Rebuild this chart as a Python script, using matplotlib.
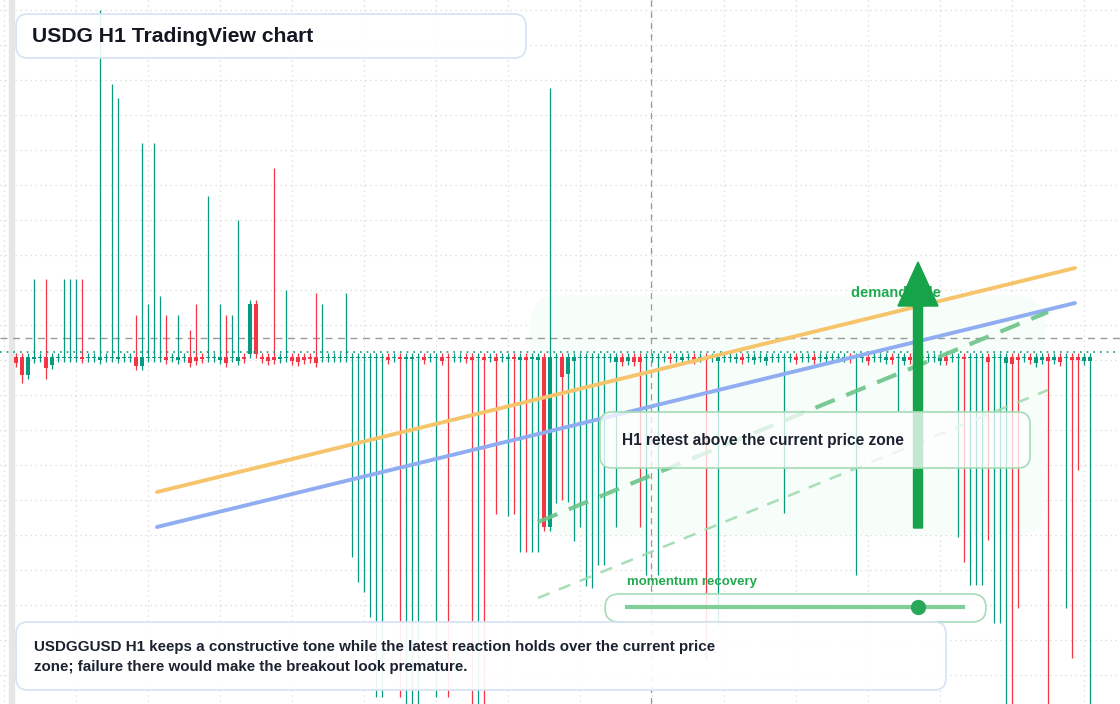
import numpy as np
import matplotlib.pyplot as plt
from matplotlib.patches import FancyBboxPatch, FancyArrow

plt.rcParams['font.family'] = ['Liberation Sans', 'DejaVu Sans']

# candle bodies in pips relative to 1.0000 (close - open), red when negative
body_pips = [
    -6, -18, 18, 2, 0, -11, 8, 0, 1, 0, 0, -2, 0, 0, 3, 0, 0, 2, 0, 0,
    -9, 9, 0, 1, 0, -3, 0, 3, 0, -6, -4, -2, 0, 0, 3, -6, 0, 4, -2, 50,
    -50, -2, -4, -3, 2, 0, -4, -5, -3, -2, -6, 0, 0, 0, 0, 0, 0, 0, 0, 0,
    0, 0, -3, 0, -2, 2, 2, 0, -3, 0, 0, -4, -1, 0, 0, -2, -3, 0, -3, 0,
    -4, 0, 2, -2, 3, -3, 2, 3, -170, 170, 0, -20, 17, 4, 0, 0, 0, 0, 0, 0,
    5, -5, 4, -5, -5, 0, 0, 0, 0, -2, 0, 3, 0, -3, 0, -3, 0, 4, 0, 0,
    2, -3, 0, 3, 0, 4, 0, 0, 0, 0, -3, 0, 0, -3, 0, 2, 0, 0, 0, -2,
    0, 0, -4, 0, 0, 3, -3, 0, 4, -3, 0, 0, 0, 0, 4, -4, 0, 0, -2, 0,
    0, 0, -5, 0, 0, 6, -7, -3, 0, -3, 6, 3, -4, 3, -5, 0, -3, -3, 4, 4,
]
tall_top_idx = [39, 40]
tall_top_pips = [53, 53]

spike_high_idx = [3, 5, 8, 9, 10, 11, 14, 16, 17, 20, 21, 22, 23, 24, 25, 27, 29, 30,
                  32, 34, 35, 36, 37, 43, 45, 50, 51, 55, 89]
spike_high_pips = [78, 78, 78, 78, 78, 78, 347, 273, 259, 42, 214, 53, 214, 61, 42, 42, 27, 53,
                   161, 53, 42, 42, 137, 189, 67, 64, 53, 64, 269]
spike_low_idx = [1, 5, 56, 57, 58, 59, 60, 61, 64, 65, 66, 67, 70, 72, 76, 77, 78, 80, 82, 83,
                 84, 85, 86, 87, 90, 91, 92, 93, 94, 95, 96, 97, 98, 100, 104, 105, 107, 115,
                 117, 128, 140, 147, 157, 158, 159, 160, 161, 162, 163, 164, 165, 166, 167,
                 172, 175, 176, 177, 179]
spike_low_pips = [-26, -22, -200, -225, -235, -260, -340, -340, -340, -347, -347, -347, -340, -340,
                  -347, -347, -347, -157, -159, -157, -195, -195, -195, -195, -146, -143, -145,
                  -184, -170, -229, -231, -208, -208, -170, -170, -218, -218, -303, -268, -156,
                  -218, -55, -180, -205, -228, -228, -228, -183, -266, -266, -347, -347, -251,
                  -347, -251, -301, -113, -347]

n = len(body_pips)
body = np.array(body_pips, dtype=float)
top = np.zeros(n)
top[tall_top_idx] = tall_top_pips
bottom = top - np.maximum(np.abs(body), 1.2)
high = top + 4
low = bottom - 4
high[spike_high_idx] = spike_high_pips
low[spike_low_idx] = spike_low_pips
colors = np.where(body >= 0, '#089981', '#F23645')
idx = np.arange(n)

fig = plt.figure(figsize=(11.2, 7.04), dpi=100)
ax = fig.add_axes([0, 0, 1, 1])
ax.set_xlim(-16 / 6, (1120 - 16) / 6)
ax.set_ylim(-347, 357)
ax.axis('off')

# overlay in pixel space for drawings and labels
ov = fig.add_axes([0, 0, 1, 1], zorder=5)
ov.patch.set_alpha(0)
ov.set_xlim(0, 1120)
ov.set_ylim(704, 0)
ov.axis('off')
px = ov.transData

# background pieces go on the candle axes, under the candles
grid_c = '#d8d8d8'
for gx in np.arange(4, 1120, 72):
    ax.plot([gx, gx], [0, 704], color=grid_c, ls=(0, (1, 3)), lw=0.9, transform=px, zorder=0)
for gy in np.arange(10, 704, 35):
    ax.plot([0, 1120], [gy, gy], color=grid_c, ls=(0, (1, 3)), lw=0.9, transform=px, zorder=0)
ax.add_patch(plt.Rectangle((9, 0), 5, 704, color='#e6e6e6', transform=px, zorder=1))
ax.add_patch(FancyBboxPatch((530, 295), 515, 240, boxstyle='round,pad=0,rounding_size=30',
                            fc='#f7fdf9', ec='none', transform=px, zorder=0.5))
ax.plot([651, 651], [0, 704], color='#9a9a9a', ls=(0, (5, 4)), lw=0.9, transform=px, zorder=1)
ax.plot([0, 1120], [338, 338], color='#9a9a9a', ls=(0, (5, 4)), lw=1.0, transform=px, zorder=1)

ax.vlines(idx, low, high, colors=colors, lw=0.9, zorder=2)
ax.bar(idx, top - bottom, bottom=bottom, width=0.8, color=colors, zorder=3)
ax.axhline(5, color='#089981', ls=(0, (1, 3)), lw=1.2, zorder=4)

ov.plot([157, 1075], [492, 268], color='#f6c46a', lw=2.8, solid_capstyle='round', zorder=6)
ov.plot([157, 1075], [527, 303], color='#8fadf0', lw=2.8, solid_capstyle='round', zorder=6)
ov.plot([538, 1048], [522, 312], color='#6cc48a', lw=3, ls=(0, (5, 3)), alpha=0.9, zorder=6)
ov.plot([538, 1048], [598, 390], color='#9fdbb0', lw=1.8, ls=(0, (5, 4)), alpha=0.9, zorder=6)

ov.text(851, 293, 'demand side', color='#22a94f', fontsize=10.5, fontweight='bold', va='center', zorder=6)
ov.add_patch(FancyArrow(918, 528, 0, -222, width=9, head_width=40, head_length=44,
                        length_includes_head=False, color='#17a34a', zorder=7))

def box(x, y, w, h, ec, alpha=0.8, r=12):
    ov.add_patch(FancyBboxPatch((x, y), w, h, boxstyle='round,pad=0,rounding_size=%d' % r,
                                fc='white', ec='none', alpha=alpha, zorder=8))
    ov.add_patch(FancyBboxPatch((x, y), w, h, boxstyle='round,pad=0,rounding_size=%d' % r,
                                fc='none', ec=ec, lw=1.2, zorder=8))

box(600, 412, 430, 56, '#a5dcb6', alpha=0.75)
ov.text(622, 441, 'H1 retest above the current price zone', fontsize=11.2, fontweight='bold',
        color='#1b2230', va='center', zorder=9)

ov.text(627, 582, 'momentum recovery', color='#22a94f', fontsize=9.5, fontweight='bold', va='center', zorder=9)
box(605, 594, 381, 28, '#a5dcb6', alpha=0.85, r=14)
ov.plot([627, 963], [607, 607], color='#7fcf98', lw=3, zorder=9)
ov.plot([918], [607], 'o', color='#27a85a', ms=10, zorder=10)

box(16, 14, 510, 44, '#d6e2f5', alpha=0.88)
ov.text(32, 36, 'USDG H1 TradingView chart', fontsize=15.2, fontweight='bold', color='#131722', va='center', zorder=9)

box(16, 622, 930, 68, '#d6e2f5', alpha=0.92)
ov.text(34, 657, 'USDGGUSD H1 keeps a constructive tone while the latest reaction holds over the current price\n'
        'zone; failure there would make the breakout look premature.', fontsize=10.9, fontweight='bold',
        color='#1b2230', va='center', linespacing=1.5, zorder=9)

fig.savefig('out.png', dpi=100)
